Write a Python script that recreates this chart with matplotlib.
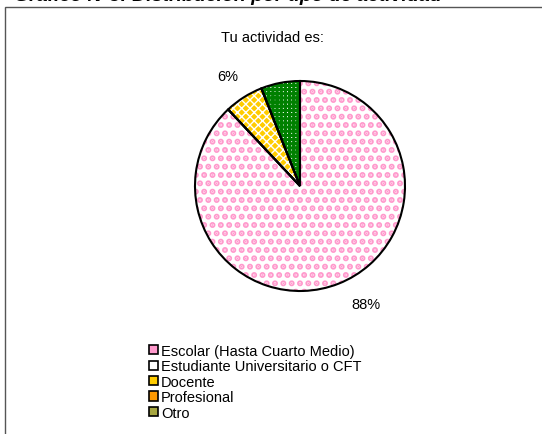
import matplotlib.pyplot as plt
from matplotlib.patches import Patch, Rectangle

plt.rcParams['font.family'] = ['Liberation Sans', 'DejaVu Sans']
plt.rcParams['hatch.linewidth'] = 1.5

categories = ['Escolar (Hasta Cuarto Medio)', 'Estudiante Universitario o CFT',
              'Docente', 'Profesional', 'Otro']
values = [88, 0, 6, 0, 6]
labels = ['88%', '', '6%', '', '']
fills = ['white', 'white', '#FFCC00', '#FF9900', 'white']
hatch_colors = ['#FF99CC', 'white', 'white', 'white', '#008000']
hatches = ['..', '', 'xxxx', '', '++++']
hatch_widths = [3.0, 1.0, 1.0, 1.0, 2.2]
legend_colors = ['#FF99CC', 'white', '#FFCC00', '#FF9900', '#A6A640']

fig = plt.figure(figsize=(5.42, 4.35), dpi=100)
fig.patch.set_facecolor('white')

# outer chart frame (cut off on the right and bottom like the source)
fig.patches.append(Rectangle((5 / 542, -0.1), 1.2, 1 - 8 / 435 + 0.1,
                             transform=fig.transFigure, fill=False,
                             edgecolor='#555555', linewidth=1.0))

# clipped document caption above the frame
fig.text(228 / 542, 1 - 1 / 435, 'Gráfico N°3: Distribución por tipo de actividad',
         ha='center', va='baseline', fontsize=14, fontweight='bold',
         fontstyle='italic')

fig.text(272 / 542, 1 - 38 / 435, 'Tu actividad es:', ha='center', va='center',
         fontsize=10.5)

ax = fig.add_axes([150 / 542, (435 - 337) / 435, 300 / 542, 300 / 435])

# patterned fill first, then black outlines on top
wedges, _ = ax.pie(values, startangle=90, counterclock=False, colors=fills,
                   radius=1.0)
for w, hc, h, hw in zip(wedges, hatch_colors, hatches, hatch_widths):
    w.set_hatch(h)
    w.set_edgecolor(hc)
    w.set_linewidth(0)
    if hasattr(w, 'set_hatch_linewidth'):
        w.set_hatch_linewidth(hw)

outline, _ = ax.pie(values, startangle=90, counterclock=False, radius=1.0,
                    wedgeprops=dict(fill=False, edgecolor='black', linewidth=1.5))

lim = 150 / 105
ax.set_xlim(-lim, lim)
ax.set_ylim(-lim, lim)
ax.set_aspect('equal')
ax.axis('off')

# data labels near their slices
label_pos = {'88%': (0.63, -1.12), '6%': (-0.69, 1.05)}
for lab in labels:
    if lab:
        ax.text(*label_pos[lab], lab, ha='center', va='center', fontsize=10.5)

handles = [Patch(facecolor=c, edgecolor='black', linewidth=1.2) for c in legend_colors]
leg = fig.legend(handles, categories, loc='upper left',
                 bbox_to_anchor=(143 / 542, 1 - 339 / 435), frameon=False,
                 fontsize=10.5, handlelength=0.6, handleheight=0.6,
                 handletextpad=0.25, labelspacing=0.1, borderaxespad=0)

fig.savefig('out.png', dpi=100)
